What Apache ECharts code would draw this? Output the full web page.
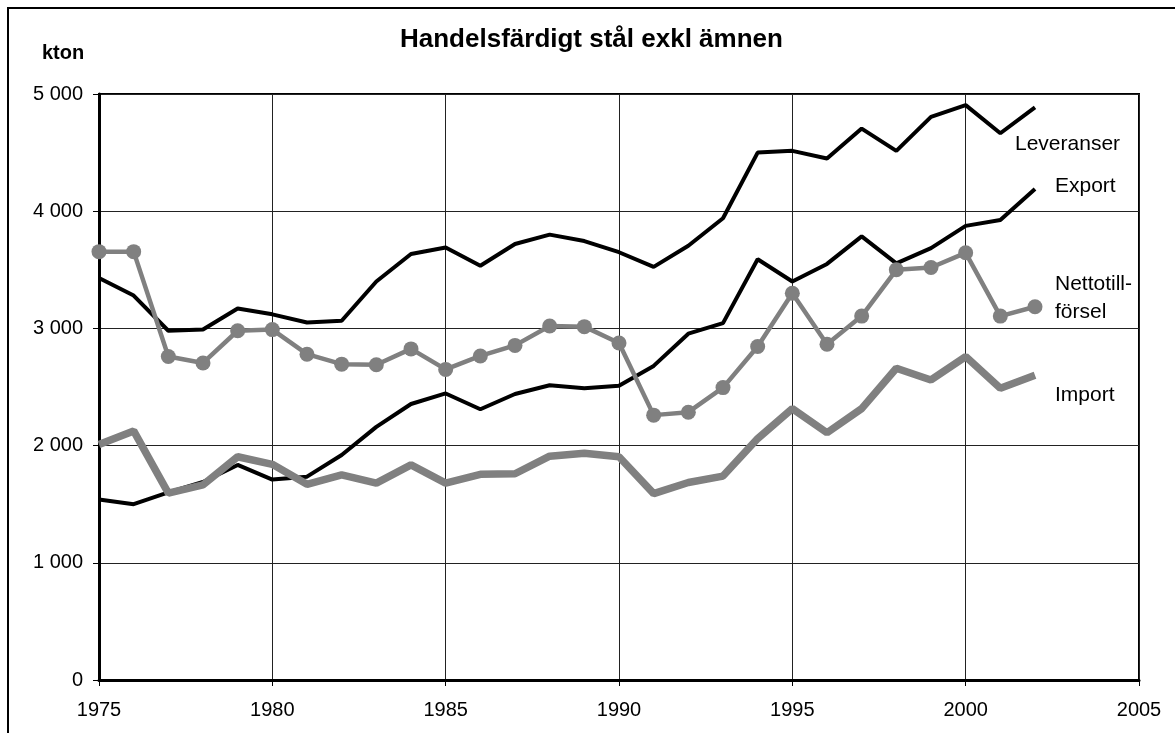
<!DOCTYPE html>
<html>
<head>
<meta charset="utf-8">
<script src="https://cdn.jsdelivr.net/npm/echarts@6/dist/echarts.min.js"></script>
<style>
  html, body { margin: 0; padding: 0; background: #fff; }
  #chart { width: 1175px; height: 733px; }
</style>
</head>
<body>
<div id="chart"></div>
<script>
// data (kton)
var years = [1975, 1976, 1977, 1978, 1979, 1980, 1981, 1982, 1983, 1984,
  1985, 1986, 1987, 1988, 1989, 1990, 1991, 1992, 1993, 1994,
  1995, 1996, 1997, 1998, 1999, 2000, 2001, 2002]
var leveranser = [3430, 3280, 2980, 2990, 3170, 3120, 3050, 3065, 3400, 3635,
  3690, 3535, 3720, 3800, 3745, 3650, 3525, 3705, 3940, 4500,
  4515, 4450, 4705, 4515, 4805, 4905, 4665, 4885]
var exportVals = [1540, 1500, 1600, 1690, 1835, 1710, 1735, 1920, 2160, 2355,
  2445, 2310, 2440, 2515, 2490, 2510, 2680, 2955, 3045, 3590,
  3400, 3550, 3785, 3555, 3685, 3875, 3925, 4190]
var netto = [3655, 3655, 2760, 2705, 2980, 2990, 2780, 2695, 2690, 2825,
  2650, 2765, 2855, 3020, 3015, 2875, 2260, 2285, 2495, 2845,
  3300, 2865, 3105, 3500, 3520, 3645, 3105, 3185]
var importVals = [2010, 2125, 1595, 1665, 1905, 1840, 1670, 1750, 1680, 1835,
  1680, 1755, 1760, 1910, 1935, 1905, 1590, 1685, 1740, 2060,
  2315, 2110, 2315, 2660, 2560, 2760, 2490, 2600]

function pairs (vals) {
  var out = []
  for (var i = 0; i < years.length; i++) {
    out.push([years[i], vals[i]])
  }
  return out
}

var font = 'Liberation Sans, Arial, sans-serif'
var gray = '#808080'

var myChart = echarts.init(document.getElementById('chart'))
myChart.setOption({
  animation: false,
  textStyle: { fontFamily: font },
  title: {
    text: 'Handelsfärdigt stål exkl ämnen',
    left: 400,
    top: 27,
    padding: 0,
    textStyle: { fontSize: 26, fontWeight: 'bold', color: '#000', fontFamily: font }
  },
  graphic: [
    {
      type: 'rect',
      shape: { x: 8, y: 8, width: 1300, height: 900 },
      style: { fill: 'none', stroke: '#000', lineWidth: 2 },
      silent: true
    },
    {
      type: 'text',
      left: 42,
      top: 43,
      style: { text: 'kton', font: 'bold 20px ' + font, fill: '#000' }
    }
  ],
  grid: {
    left: 99,
    right: 36,
    top: 94,
    bottom: 53,
    show: true,
    borderColor: '#000',
    borderWidth: 2
  },
  xAxis: {
    type: 'value',
    min: 1975,
    max: 2005,
    interval: 5,
    axisLine: { onZero: false, lineStyle: { color: '#000', width: 3 } },
    axisTick: { show: true, length: 6, lineStyle: { color: '#000', width: 1 } },
    axisLabel: {
      color: '#000',
      fontSize: 20,
      margin: 20,
      fontFamily: font,
      formatter: function (v) { return String(v) }
    },
    splitLine: { show: true, lineStyle: { color: '#222', width: 1 } }
  },
  yAxis: {
    type: 'value',
    min: 0,
    max: 5000,
    interval: 1000,
    axisLine: { show: true, lineStyle: { color: '#000', width: 3 } },
    axisTick: { show: true, length: 6, lineStyle: { color: '#000', width: 1 } },
    axisLabel: {
      color: '#000',
      fontSize: 20,
      margin: 16,
      fontFamily: font,
      formatter: function (v) {
        return v >= 1000 ? Math.floor(v / 1000) + ' 000' : String(v)
      }
    },
    splitLine: { show: true, lineStyle: { color: '#222', width: 1 } }
  },
  series: [
    {
      name: 'Leveranser',
      type: 'line',
      data: pairs(leveranser),
      symbol: 'none',
      lineStyle: { color: '#000', width: 4 },
      endLabel: {
        show: true,
        formatter: '{a}',
        color: '#000',
        fontSize: 21,
        fontFamily: font,
        offset: [-28, 37]
      }
    },
    {
      name: 'Export',
      type: 'line',
      data: pairs(exportVals),
      symbol: 'none',
      lineStyle: { color: '#000', width: 4 },
      endLabel: {
        show: true,
        formatter: '{a}',
        color: '#000',
        fontSize: 21,
        fontFamily: font,
        offset: [12, -3]
      }
    },
    {
      name: 'Import',
      type: 'line',
      data: pairs(importVals),
      symbol: 'none',
      lineStyle: { color: gray, width: 7.5 },
      endLabel: {
        show: true,
        formatter: '{a}',
        color: '#000',
        fontSize: 21,
        fontFamily: font,
        offset: [12, 20]
      }
    },
    {
      name: 'Nettotillförsel',
      type: 'line',
      data: pairs(netto),
      symbol: 'circle',
      symbolSize: 15,
      itemStyle: { color: gray },
      lineStyle: { color: gray, width: 4.5 },
      endLabel: {
        show: true,
        formatter: 'Nettotill-\nförsel',
        color: '#000',
        fontSize: 21,
        lineHeight: 28,
        fontFamily: font,
        offset: [12, -9]
      }
    }
  ]
})
</script>
</body>
</html>
